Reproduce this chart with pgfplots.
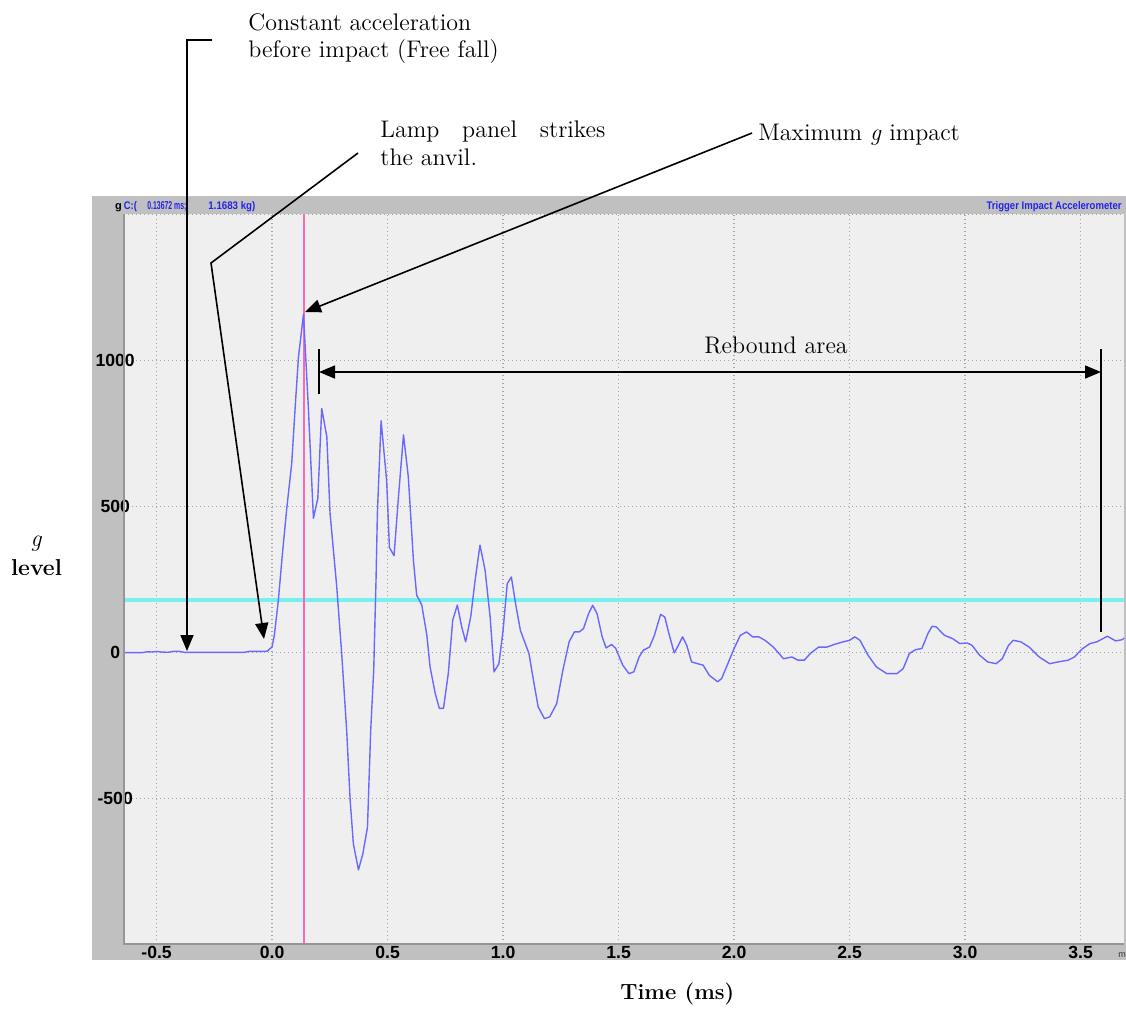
\documentclass[border=0pt]{standalone}
\usepackage{pgfplots}
\pgfplotsset{compat=1.18}
\usetikzlibrary{arrows.meta}
\usepackage{fontspec}
\newfontfamily\tickfont{Liberation Sans}
\newfontfamily\hdrfont{Liberation Sans}
\definecolor{framegray}{RGB}{192,192,192}
\definecolor{panelgray}{RGB}{239,239,239}
\definecolor{gridgray}{RGB}{165,165,165}
\definecolor{edgegray}{RGB}{150,150,150}
\definecolor{wave}{RGB}{105,105,255}
\definecolor{hdrblue}{RGB}{35,35,235}
\begin{document}
\begin{tikzpicture}
\tikzset{ann/.style={line width=0.8pt, black},
  tri/.style={-{Triangle[length=8pt,width=6.5pt]}},
  tritri/.style={{Triangle[length=8pt,width=6.5pt]}-{Triangle[length=8pt,width=6.5pt]}}}
\begin{scope}[x=0.5pt,y=-0.5pt]
\useasboundingbox (0,0) rectangle (1126,1009);
\fill[framegray] (92,196) rectangle (1126,960);
\end{scope}
\begin{axis}[
  at={(62pt,-472pt)}, anchor=south west,
  scale only axis, width=500pt, height=365pt,
  xmin=-0.641, xmax=3.688, ymin=-998, ymax=1502,
  axis background/.style={fill=panelgray},
  axis line style={draw=none},
  xtick={-0.5,0,0.5,1,1.5,2,2.5,3,3.5},
  xticklabels={-0.5,0.0,0.5,1.0,1.5,2.0,2.5,3.0,3.5},
  ytick={-500,0,500,1000,1500},
  yticklabels={-500,0,500,1000,{}},
  grid=major,
  major grid style={gridgray, line width=0.6pt, dash pattern=on 0.6pt off 1.4pt},
  major tick length=0pt,
  tick style={draw=none},
  ticklabel style={font=\tickfont\bfseries\fontsize{8.8}{10}\selectfont},
  yticklabel style={anchor=center, xshift=-4.4pt},
  xticklabel style={anchor=center, yshift=-4.2pt},
]
\addplot[color={rgb,255:red,120;green,240;blue,240}, line width=1.6pt] coordinates {(-0.641,180) (3.688,180)};
\addplot[color={rgb,255:red,255;green,105;blue,180}, line width=0.9pt] coordinates {(0.13672,-998) (0.13672,1502)};
\addplot[color=wave, line width=0.7pt, line join=round] coordinates {
(-0.641,0) (-0.56,0) (-0.54,3) (-0.52,2) (-0.50,4) (-0.48,2) (-0.45,1) (-0.43,4) (-0.40,4) (-0.38,1)
(-0.12,1) (-0.10,4) (-0.04,4) (-0.02,5)
(0.000,20) (0.010,60) (0.027,178) (0.045,340) (0.064,497) (0.085,647) (0.100,840) (0.114,1010)
(0.136,1159) (0.157,840) (0.179,460) (0.198,528) (0.215,836) (0.237,739) (0.251,477) (0.280,225)
(0.302,-10) (0.323,-267) (0.338,-506) (0.352,-655) (0.374,-744) (0.393,-689) (0.413,-598) (0.427,-267)
(0.440,-60) (0.450,248) (0.456,480) (0.472,794) (0.496,589) (0.508,360) (0.528,332) (0.547,532)
(0.569,746) (0.590,600) (0.612,315) (0.626,197) (0.648,163) (0.670,60) (0.684,-49) (0.706,-139)
(0.724,-191) (0.742,-191) (0.763,-71) (0.782,111) (0.802,163) (0.821,88) (0.838,37) (0.860,123)
(0.879,248) (0.900,368) (0.922,283) (0.944,122) (0.961,-66) (0.982,-38) (1.000,76) (1.018,236)
(1.036,259) (1.054,168) (1.075,76) (1.112,-3) (1.134,-106) (1.152,-186) (1.179,-226) (1.202,-220)
(1.232,-175) (1.259,-60) (1.286,37) (1.309,71) (1.330,71) (1.348,82) (1.370,133) (1.388,162)
(1.407,133) (1.429,54) (1.446,16) (1.470,28) (1.488,14) (1.518,-43) (1.545,-72) (1.566,-66)
(1.589,-15) (1.607,8) (1.634,19) (1.655,59) (1.682,131) (1.700,122) (1.718,65) (1.741,-1)
(1.759,25) (1.777,54) (1.795,25) (1.816,-32) (1.843,-38) (1.866,-43) (1.893,-78) (1.929,-100)
(1.946,-89) (1.973,-38) (2.000,14) (2.027,59) (2.054,71) (2.080,54) (2.107,54) (2.134,42)
(2.170,19) (2.214,-21) (2.250,-15) (2.277,-26) (2.304,-26) (2.330,-3) (2.366,19) (2.402,19)
(2.434,28) (2.473,37) (2.500,42) (2.523,54) (2.545,42) (2.580,-9) (2.616,-49) (2.661,-72)
(2.705,-72) (2.732,-55) (2.759,-3) (2.786,10) (2.813,14) (2.839,65) (2.857,90) (2.875,88)
(2.911,59) (2.946,48) (2.977,31) (3.009,33) (3.030,25) (3.063,-9) (3.098,-32) (3.134,-38)
(3.161,-21) (3.188,25) (3.209,42) (3.241,37) (3.277,19) (3.321,-15) (3.366,-38) (3.402,-32)
(3.446,-26) (3.473,-15) (3.509,14) (3.541,31) (3.571,37) (3.616,56) (3.652,40) (3.679,44) (3.69,50)
};
\end{axis}
\begin{scope}[x=0.5pt,y=-0.5pt]
% panel edges
\draw[edgegray, line width=0.7pt] (124,214) -- (124,944) -- (1124,944);
% header texts
\node[anchor=base, inner sep=0pt, font=\hdrfont\bfseries\fontsize{5.5}{6}\selectfont] at (118.5,209) {g};
\node[anchor=base west, inner sep=0pt, text=hdrblue, font=\hdrfont\bfseries\fontsize{5.5}{6}\selectfont] at (123.5,209) {\resizebox{6.5pt}{4pt}{C:(}};
\node[anchor=base west, inner sep=0pt, text=hdrblue, font=\hdrfont\bfseries\fontsize{5.5}{6}\selectfont] at (147,209) {\resizebox{19.5pt}{4pt}{0.13672 ms;}};
\node[anchor=base west, inner sep=0pt, text=hdrblue, font=\hdrfont\bfseries\fontsize{5.5}{6}\selectfont] at (208,209) {\resizebox{23.5pt}{4pt}{1.1683 kg)}};
\node[anchor=base east, inner sep=0pt, text=hdrblue, font=\hdrfont\bfseries\fontsize{5.5}{6}\selectfont] at (1122,209) {\resizebox{67.5pt}{4pt}{Trigger Impact Accelerometer}};
\node[anchor=base, inner sep=0pt, font=\hdrfont\fontsize{4.5}{5}\selectfont, text=black!80] at (1122,957) {m};
% axis titles
\node[anchor=base, inner sep=0pt, font=\fontsize{12}{14}\selectfont\itshape] at (36,546) {g};
\node[anchor=base, inner sep=0pt, font=\fontsize{11.5}{14}\selectfont\bfseries] at (36.5,575) {level};
\node[anchor=base west, inner sep=0pt, font=\fontsize{11}{14}\selectfont\bfseries] at (620,999) {Time (ms)};
% annotation texts
\node[anchor=base west, inner sep=0pt, font=\fontsize{12}{14}\selectfont] at (248,30) {Constant acceleration};
\node[anchor=base west, inner sep=0pt, font=\fontsize{12}{14}\selectfont] at (248,57) {before impact (Free fall)};
\node[anchor=base west, inner sep=0pt, font=\fontsize{12}{14}\selectfont] at (380,137) {\makebox[112.5pt][s]{Lamp panel strikes}};
\node[anchor=base west, inner sep=0pt, font=\fontsize{12}{14}\selectfont] at (380,165) {the anvil.};
\node[anchor=base west, inner sep=0pt, font=\fontsize{12}{14}\selectfont] at (758,140) {Maximum \textit{g} impact};
\node[anchor=base west, inner sep=0pt, font=\fontsize{12}{14}\selectfont] at (704,353) {Rebound area};
% annotation arrows
\draw[ann, tri] (212,40) -- (187,40) -- (187,651);
\draw[ann, tri] (358,153) -- (211,263) -- (264,639);
\draw[ann, tri] (752,133) -- (305,312);
\draw[ann] (319,349) -- (319,394);
\draw[ann, tritri] (319,372) -- (1101,372);
\draw[ann] (1101,349) -- (1101,632);
\end{scope}
\end{tikzpicture}
\end{document}
